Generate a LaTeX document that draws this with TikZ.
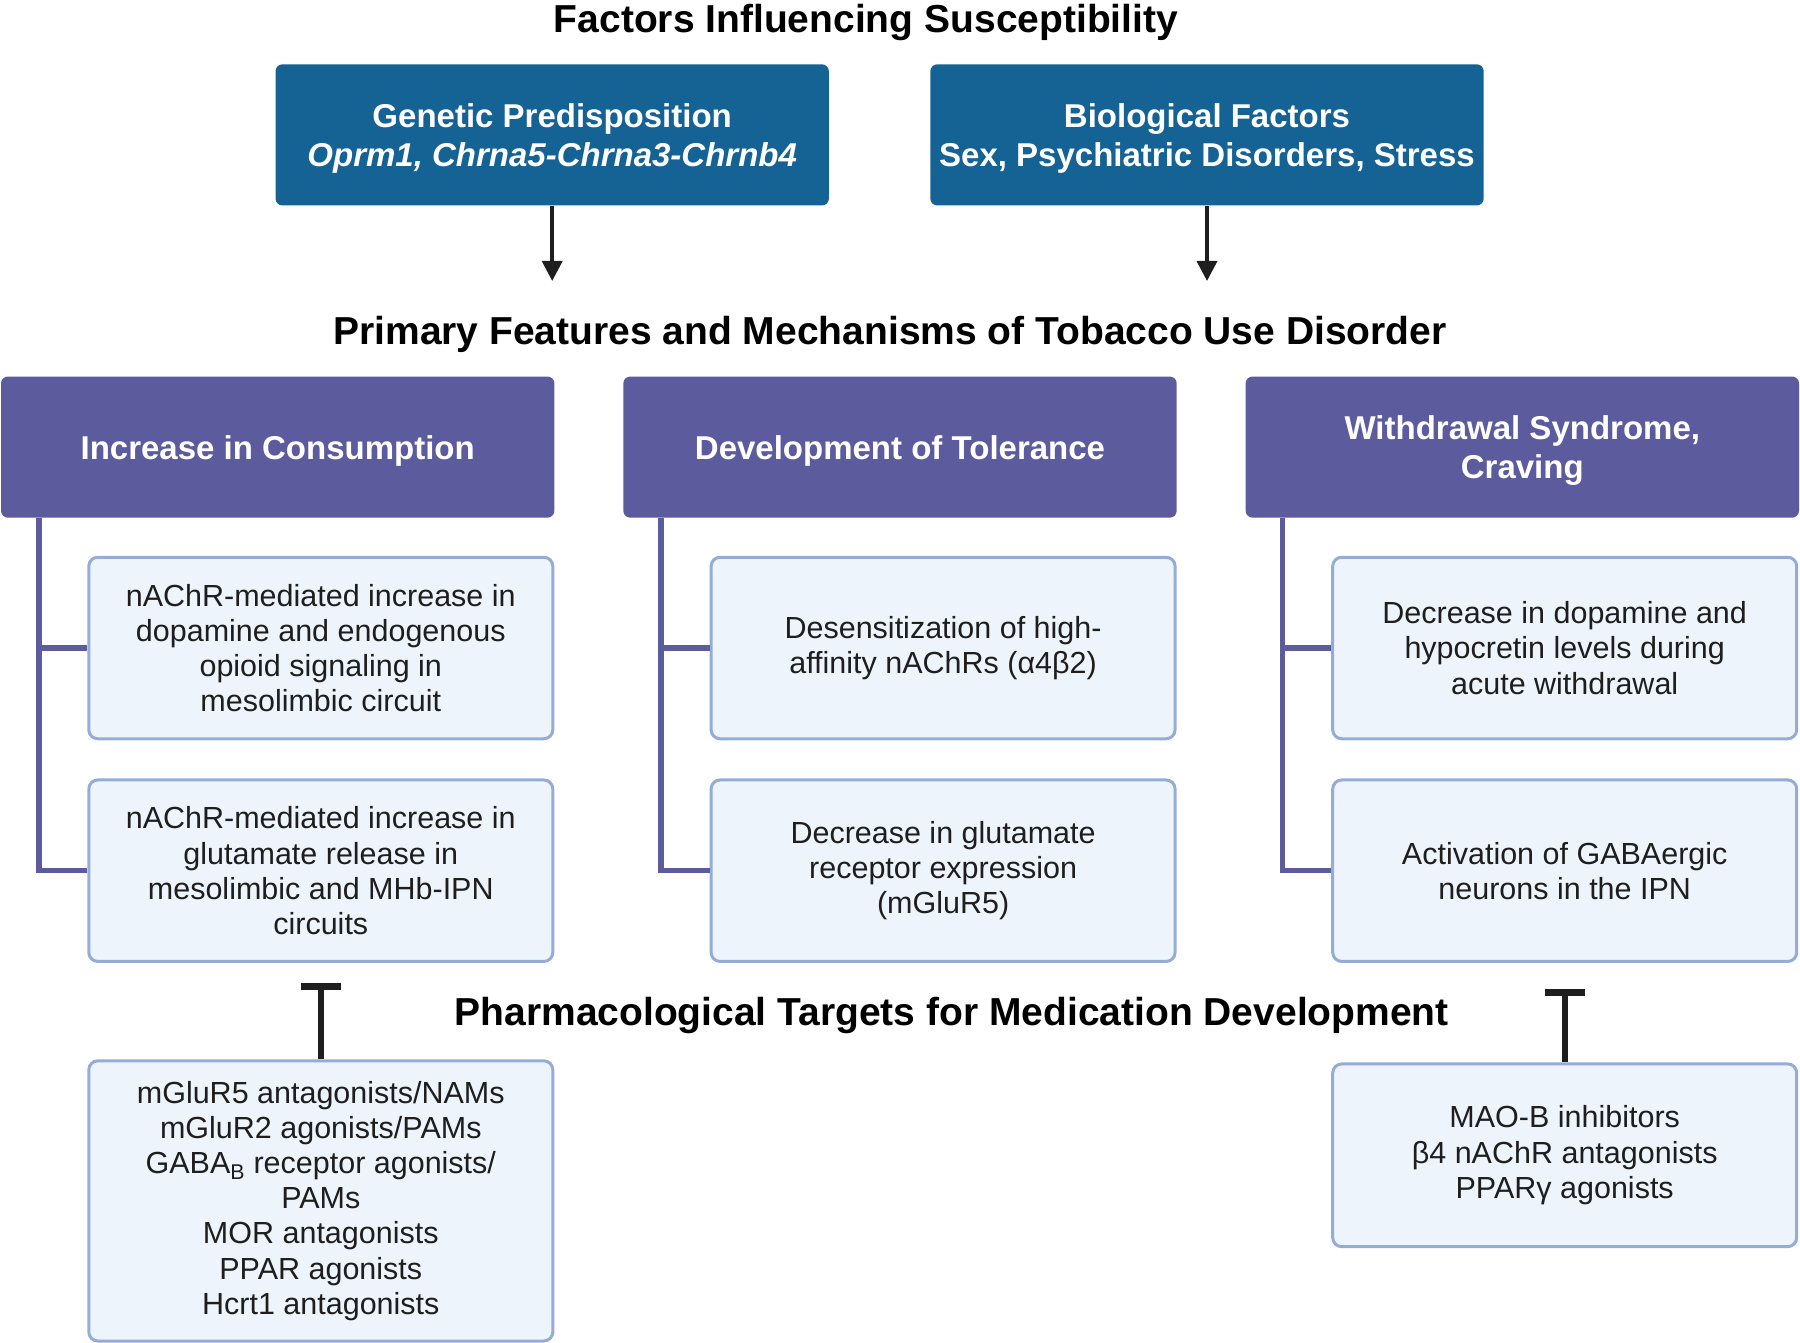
\documentclass[tikz,border=0pt]{standalone}
\usepackage{fontspec}
\setmainfont{Liberation Sans}
\usetikzlibrary{arrows.meta}
\definecolor{hdrblue}{HTML}{156295}
\definecolor{hdrpurple}{HTML}{5B5B9E}
\definecolor{lightfill}{HTML}{EEF4FC}
\definecolor{lightborder}{HTML}{95ACD8}
\definecolor{ink}{HTML}{1E1E1E}
\begin{document}
\begin{tikzpicture}[x=1pt,y=-1pt,
  titletext/.style={font=\fontsize{39}{46}\selectfont\bfseries, text=black, inner sep=0pt, anchor=base},
  topbox/.style={fill=hdrblue, rounded corners=7pt, inner sep=0pt, minimum width=553.4pt, minimum height=141.2pt},
  hdrbox/.style={fill=hdrpurple, rounded corners=7pt, inner sep=0pt, minimum width=553.4pt, minimum height=141.2pt},
  boxtext/.style={text=white, font=\fontsize{33}{39.5}\selectfont\bfseries, align=center, inner sep=0pt},
  infobox/.style={fill=lightfill, draw=lightborder, line width=3pt, rounded corners=9pt, text=ink, font=\fontsize{30.5}{35.2}\selectfont, align=center, inner sep=0pt, minimum width=464pt, minimum height=181.5pt},
  brk/.style={draw=hdrpurple, line width=5.5pt},
  arr/.style={draw=ink, line width=3.5pt, -{Triangle[length=20pt,width=20pt]}},
  tbar/.style={draw=ink, line width=6pt, -{Bar[width=40pt,line width=6.5pt]}}
]
\useasboundingbox (0,0) rectangle (1800,1343);

% Titles
\node[titletext] (t1) at (866,33) {Factors Influencing Susceptibility};
\node[titletext] (t2) at (890,344.5) {Primary Features and Mechanisms of Tobacco Use Disorder};
\node[titletext] (t3) at (951.7,1025) {Pharmacological Targets for Medication Development};

% Top boxes
\node[topbox] (gen) at (552.2,134.9) {};
\node[topbox] (bio) at (1207,134.9) {};
\node[boxtext] (gent) at ([yshift=-3.5pt]gen.center) {Genetic Predisposition\\\itshape Oprm1, Chrna5-Chrna3-Chrnb4};
\node[boxtext] (biot) at ([yshift=-3.5pt]bio.center) {Biological Factors\\Sex, Psychiatric Disorders, Stress};
\coordinate (ga) at (552.2,281);
\coordinate (ba) at (1207,281);
\draw[arr] (gen.south) -- (ga);
\draw[arr] (bio.south) -- (ba);

% Header boxes
\node[hdrbox] (h1) at (277.7,447.1) {};
\node[hdrbox] (h2) at (900,447.1) {};
\node[hdrbox] (h3) at (1522.3,447.1) {};
\node[boxtext] (h1t) at ([yshift=-3.5pt]h1.center) {Increase in Consumption};
\node[boxtext] (h2t) at ([yshift=-3.5pt]h2.center) {Development of Tolerance};
\node[boxtext] (h3t) at ([yshift=-3.5pt]h3.center) {Withdrawal Syndrome,\\Craving};

% Info boxes
\node[infobox] (b1a) at (320.8,648) {nAChR-mediated increase in\\dopamine and endogenous\\opioid signaling in\\mesolimbic circuit};
\node[infobox] (b1b) at (320.8,870.7) {nAChR-mediated increase in\\glutamate release in\\mesolimbic and MHb-IPN\\circuits};
\node[infobox] (b2a) at (943.1,648) {Desensitization of high-\\affinity nAChRs (α4β2)};
\node[infobox] (b2b) at (943.1,870.7) {Decrease in glutamate\\receptor expression\\(mGluR5)};
\node[infobox] (b3a) at (1564.7,648) {Decrease in dopamine and\\hypocretin levels during\\acute withdrawal};
\node[infobox] (b3b) at (1564.7,870.7) {Activation of GABAergic\\neurons in the IPN};

% Brackets
\coordinate (v1) at (39,500);
\coordinate (v2) at (661,500);
\coordinate (v3) at (1282.5,500);
\draw[brk] (v1 |- h1.south) |- (b1b.west);
\draw[brk] (v1 |- b1a.west) -- (b1a.west);
\draw[brk] (v2 |- h2.south) |- (b2b.west);
\draw[brk] (v2 |- b2a.west) -- (b2a.west);
\draw[brk] (v3 |- h3.south) |- (b3b.west);
\draw[brk] (v3 |- b3a.west) -- (b3a.west);

% Pharmacological boxes
\node[infobox, minimum height=280.2pt] (p1) at (320.8,1200.9) {mGluR5 antagonists/NAMs\\mGluR2 agonists/PAMs\\GABA\textsubscript{B} receptor agonists/\\PAMs\\MOR antagonists\\PPAR agonists\\Hcrt1 antagonists};
\node[infobox, minimum height=182.7pt] (p3) at (1564.7,1155.3) {MAO-B inhibitors\\β4 nAChR antagonists\\PPARγ agonists};
\coordinate (tb1) at (320.8,983);
\coordinate (tb3) at (1564.7,989);
\draw[tbar] (p1.north) -- (tb1);
\draw[tbar] (p3.north) -- (tb3);
\end{tikzpicture}
\end{document}
